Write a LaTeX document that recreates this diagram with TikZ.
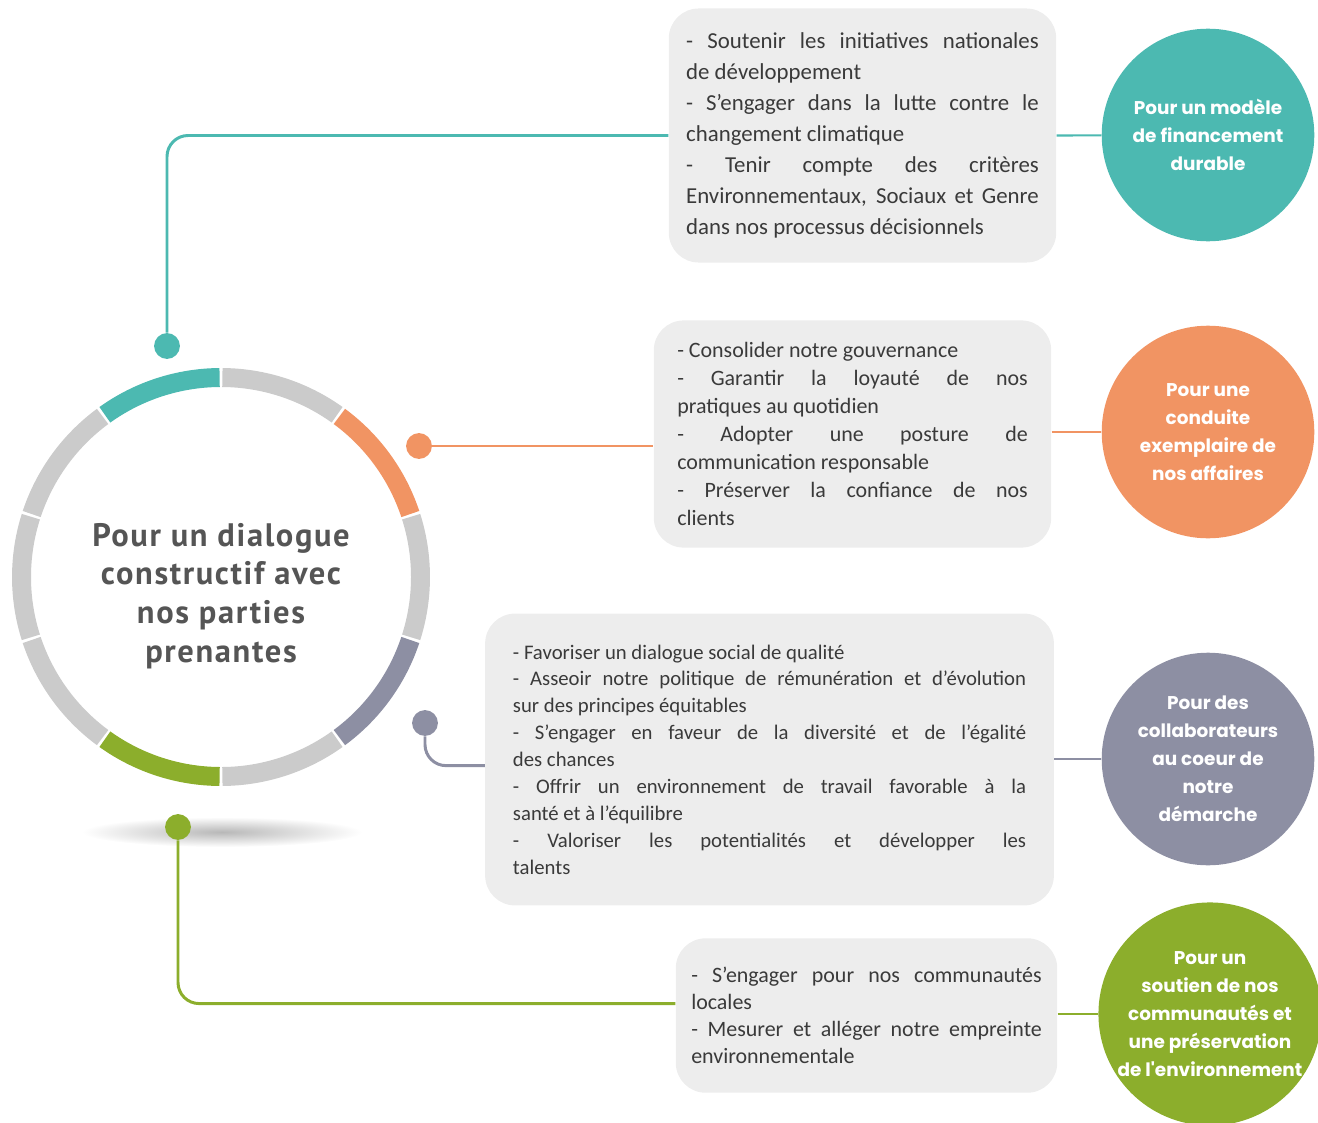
\documentclass[tikz,border=0pt]{standalone}
\usepackage{fontspec}
\setmainfont{Carlito}
\newfontfamily\hubfont[LetterSpace=5]{PT Sans}
\newfontfamily\roundfont{Poppins}
\usepackage{xcolor}
\definecolor{tealc}{RGB}{76,185,177}
\definecolor{orangec}{RGB}{241,148,99}
\definecolor{purplec}{RGB}{141,143,163}
\definecolor{greenc}{RGB}{140,174,44}
\definecolor{ringgray}{RGB}{203,203,203}
\definecolor{boxgray}{RGB}{237,237,237}
\definecolor{hubtext}{RGB}{85,85,85}
\definecolor{bodytext}{RGB}{58,58,58}
\setlength{\parindent}{0pt}

\begin{document}
\begin{tikzpicture}[x=0.02cm, y=-0.02cm]
    \tikzstyle{box} = [fill=boxgray, rounded corners=17pt, text=bodytext, align=justify, inner sep=0pt]
    \tikzstyle{goal} = [circle, minimum size=121pt, inner sep=0pt, align=center, text=white, font=\roundfont\bfseries\fontsize{10.5}{15.9}\selectfont]
    \tikzstyle{dot} = [circle, minimum size=14.7pt, inner sep=0pt]
    \tikzstyle{link} = [line width=1.7pt, rounded corners=12pt]
    \tikzstyle{tie} = [line width=1.2pt]
    \useasboundingbox (0,0) rectangle (1318,1122);

    % centre ring
    \shade[inner color=black!28, outer color=white] (222,832) ellipse [x radius=140, y radius=15];
    \begin{scope}[shift={(221,577)}, yscale=-1]
        \foreach \a/\c in {90/tealc, 126/ringgray, 162/ringgray, 198/ringgray, 234/greenc, 270/ringgray, 306/purplec, 342/ringgray, 18/orangec, 54/ringgray}
            \draw[line width=10.8pt, \c] ({\a+0.4}:199.5) arc[start angle=\a+0.4, delta angle=35.2, radius=199.5];
    \end{scope}
    \node [align=center, text=hubtext, font=\hubfont\bfseries\fontsize{18.5}{22.1}\selectfont] at (221,596) (hub) {Pour un dialogue\\constructif avec\\nos parties\\prenantes};

    % boxes
    \node [box, minimum width=220.5pt, minimum height=144.6pt, text width=200.7pt, font=\fontsize{13}{17.6}\selectfont] at (862.5,135.5) (b1) {- Soutenir les initiatives nationales\linebreak de développement\\
        - S’engager dans la lutte contre le\linebreak changement climatique\\
        - Tenir compte des critères\linebreak Environnementaux, Sociaux et Genre\linebreak dans nos processus décisionnels};
    \node [box, minimum width=226.2pt, minimum height=129.3pt, text width=199.5pt, font=\fontsize{12.5}{15.9}\selectfont] at (852.5,434) (b2) {- Consolider notre gouvernance\\
        - Garantir la loyauté de nos\linebreak pratiques au quotidien\\
        - Adopter une posture de\linebreak communication responsable\\
        - Préserver la confiance de nos\linebreak clients};
    \node [box, minimum width=323.7pt, minimum height=166.1pt, text width=292pt, font=\fontsize{11.8}{15.3}\selectfont] at (769.5,759.5) (b3) {- Favoriser un dialogue social de qualité\\
        - Asseoir notre politique de rémunération et d'évolution\linebreak sur des principes équitables\\
        - S'engager en faveur de la diversité et de l'égalité\linebreak des chances\\
        - Offrir un environnement de travail favorable à la\linebreak santé et à l'équilibre\\
        - Valoriser les potentialités et développer les\linebreak talents};
    \node [box, minimum width=217.1pt, minimum height=87.9pt, text width=199.5pt, font=\fontsize{12.5}{15.3}\selectfont] at (866.5,1015.5) (b4) {- S'engager pour nos communautés\linebreak locales\\
        - Mesurer et alléger notre empreinte\linebreak environnementale};

    % goals
    \node [goal, fill=tealc] at (1208,135) (g1) {Pour un modèle\\de financement\\durable};
    \node [goal, fill=orangec] at (1208,432) (g2) {Pour une\\conduite\\exemplaire de\\nos affaires};
    \node [goal, fill=purplec] at (1208,759) (g3) {Pour des\\collaborateurs\\au coeur de\\notre\\démarche};
    \node [goal, fill=greenc] at (1210,1014) (g4) {Pour un\\soutien de nos\\communautés et\\une préservation\\de l'environnement};

    % dots and links
    \node [dot, fill=tealc] at (167,346) (d1) {};
    \node [dot, fill=orangec] at (419,446) (d2) {};
    \node [dot, fill=purplec] at (425,723) (d3) {};
    \node [dot, fill=greenc] at (178,827) (d4) {};
    \draw[link, tealc] (d1) |- (b1.west);
    \draw[link, orangec] (d2) -- (d2 -| b2.west);
    \draw[link, purplec] (d3) |- ([yshift=-3.5pt]b3.west);
    \draw[link, greenc] (d4) |- ([yshift=6.8pt]b4.west);
    \draw[tie, tealc] (b1.east) -- (g1);
    \draw[tie, orangec] (b2.east |- g2) -- (g2);
    \draw[tie, purplec] (b3.east |- g3) -- (g3);
    \draw[tie, greenc] (b4.east |- g4) -- (g4);
\end{tikzpicture}
\end{document}
